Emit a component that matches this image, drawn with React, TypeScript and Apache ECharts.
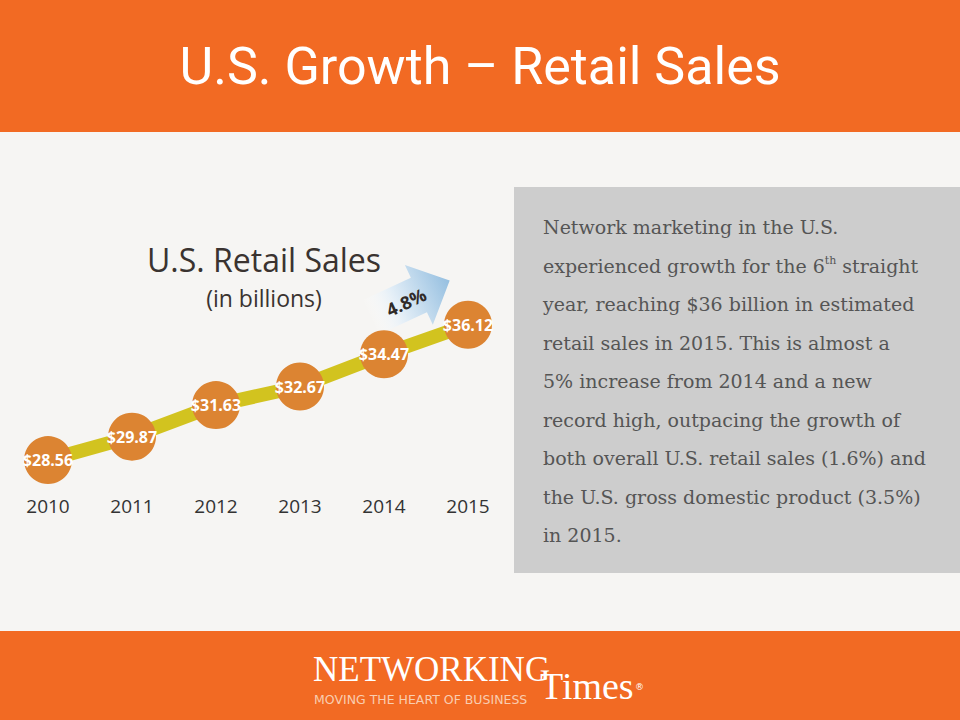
import React, { useEffect, useRef } from "react";
import * as echarts from "echarts";

const years = ["2010", "2011", "2012", "2013", "2014", "2015"];
const sales = [28.56, 29.87, 31.63, 32.67, 34.47, 36.12];
const growthLabel = "4.8%";
const headerTitle = "U.S. Growth – Retail Sales";
const chartTitle = "U.S. Retail Sales";
const chartSubtitle = "(in billions)";
const bodyLines = [
  "Network marketing in the U.S.",
  "experienced growth for the 6{sup|th} straight",
  "year, reaching $36 billion in estimated",
  "retail sales in 2015. This is almost a",
  "5% increase from 2014 and a new",
  "record high, outpacing the growth of",
  "both overall U.S. retail sales (1.6%) and",
  "the U.S. gross domestic product (3.5%)",
  "in 2015.",
];

const ORANGE = "#f26a23";

export default function App() {
  const ref = useRef<HTMLDivElement>(null);
  useEffect(() => {
    if (!ref.current) return;
    const chart = echarts.init(ref.current, undefined, { renderer: "svg" });
    const ang = (25 * Math.PI) / 180;
    const graphic: any[] = [
      { type: "rect", shape: { x: 0, y: 0, width: 960, height: 132 }, style: { fill: ORANGE }, z: 0 },
      { type: "rect", shape: { x: 0, y: 631, width: 960, height: 89 }, style: { fill: ORANGE }, z: 0 },
      { type: "rect", shape: { x: 514, y: 187, width: 446, height: 386 }, style: { fill: "#cdcdcd" }, z: 0 },
      {
        type: "text", x: 480, y: 66, z: 1,
        style: { text: headerTitle, fill: "#ffffff", font: "52px Roboto", align: "center", verticalAlign: "middle" },
      },
      {
        type: "text", x: 264, y: 259, z: 1,
        style: { text: chartTitle, fill: "#3a3330", font: "32px 'Open Sans'", align: "center", verticalAlign: "middle" },
      },
      {
        type: "text", x: 264, y: 298, z: 1,
        style: { text: chartSubtitle, fill: "#3a3330", font: "23px 'Open Sans'", align: "center", verticalAlign: "middle" },
      },
      {
        type: "polygon", x: 408, y: 300, rotation: ang, z: 1,
        shape: { points: [[-42, -19], [12, -19], [12, -33], [46, 0], [12, 33], [12, 19], [-42, 19]] },
        style: {
          fill: new echarts.graphic.LinearGradient(0, 0, 1, 0, [
            { offset: 0, color: "rgba(255,255,255,0)" },
            { offset: 0.35, color: "#e3eef7" },
            { offset: 1, color: "#95bfe0" },
          ]),
        },
      },
      {
        type: "text", x: 406, y: 302, rotation: ang, z: 2,
        style: { text: growthLabel, fill: "#2f2a28", font: "bold 18px 'Open Sans'", align: "center", verticalAlign: "middle" },
      },
      {
        type: "text", x: 313, y: 669, z: 1,
        style: { text: "NETWORKING", fill: "#ffffff", font: "35px 'Liberation Serif'", align: "left", verticalAlign: "middle" },
      },
      {
        type: "text", x: 540, y: 686, z: 1,
        style: { text: "Times", fill: "#ffffff", font: "38px 'Liberation Serif'", align: "left", verticalAlign: "middle" },
      },
      {
        type: "text", x: 635, y: 687, z: 1,
        style: { text: "®", fill: "#ffffff", font: "9px 'DejaVu Sans'", align: "left", verticalAlign: "middle" },
      },
      {
        type: "text", x: 314, y: 699, z: 1,
        style: { text: "MOVING THE HEART OF BUSINESS", fill: "#f9cdb0", font: "12.5px 'DejaVu Sans'", align: "left", verticalAlign: "middle" },
      },
    ];
    const lineY0 = 227;
    const lineStep = 38.5;
    bodyLines.forEach((t, i) => {
      graphic.push({
        type: "text", x: 543, y: lineY0 + i * lineStep, z: 1,
        style: {
          text: t, fill: "#555555", font: "19px 'DejaVu Serif'", align: "left", verticalAlign: "middle",
          rich: { sup: { fontSize: 11, fontFamily: "DejaVu Serif", fill: "#555555", verticalAlign: "top", padding: [0, 0, 10, 0] } },
        },
      });
    });
    chart.setOption({
      animation: false,
      backgroundColor: "#f6f5f3",
      grid: { left: 48, right: 492, top: 309, height: 179 },
      xAxis: {
        type: "category", data: years, boundaryGap: false,
        axisLine: { show: false }, axisTick: { show: false }, splitLine: { show: false },
        axisLabel: { color: "#333", fontSize: 19, fontFamily: "Open Sans", margin: 8 },
      },
      yAxis: { type: "value", min: 27, max: 37, show: false },
      series: [
        {
          type: "line", data: sales, z: 3,
          lineStyle: { color: "#d2c31f", width: 14 },
          symbol: "circle", symbolSize: 48,
          itemStyle: { color: "#dc8432" },
          label: {
            show: true, position: "inside", color: "#fff", fontWeight: "bold", fontSize: 16, fontFamily: "Open Sans",
            formatter: (p: any) => "$" + Number(p.value).toFixed(2),
          },
        },
      ],
      graphic,
    });
    return () => chart.dispose();
  }, []);
  return <div ref={ref} style={{ position: "fixed", left: 0, top: 0, width: 960, height: 720 }} />;
}
